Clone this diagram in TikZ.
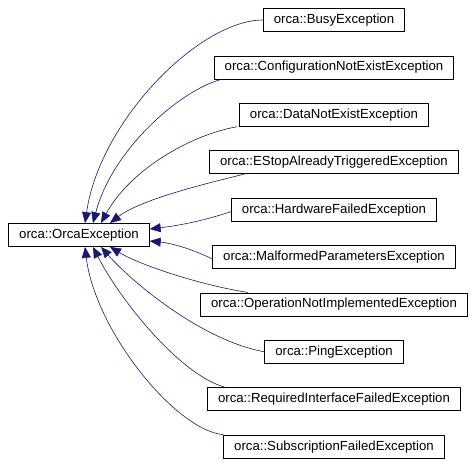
\documentclass[tikz,border=0pt]{standalone}
\usepackage{fontspec}
\setmainfont{Liberation Sans}
\usetikzlibrary{arrows.meta}
\definecolor{EDGE}{RGB}{25,25,112}

\begin{document}
\begin{tikzpicture}[x=1pt,y=-1pt,font=\fontsize{13.2}{15}\selectfont,>={Triangle[length=11pt,width=9pt]}]
    \tikzset{cls/.style={draw=black,line width=0.8pt,inner xsep=10.5pt,inner ysep=0pt,minimum height=23pt},
      edge/.style={->,EDGE,line width=0.6pt}}
    \useasboundingbox (0,0) rectangle (475,467);
    \node[cls] (base) at (79,235) {orca::OrcaException};
    \foreach \n [count=\i] in {Busy,ConfigurationNotExist,DataNotExist,EStopAlreadyTriggered,HardwareFailed,
      MalformedParameters,OperationNotImplemented,Ping,RequiredInterfaceFailed,SubscriptionFailed}
      \node[cls] (c\i) at (334,{20+47.4*(\i-1)}) {orca::\n Exception};
    % derived classes above the base
    \draw[edge] (c1.west) .. controls (200,20) and (100,120) .. ([xshift=6pt]base.north);
    \draw[edge] ([xshift=8pt]c2.south west) .. controls (180,90) and (112,150) .. ([xshift=14pt]base.north);
    \draw[edge] ([xshift=-2pt]c3.south west) .. controls (190,135) and (130,170) .. ([xshift=22pt]base.north);
    \draw[edge] ([xshift=35pt]c4.south west) .. controls (200,185) and (140,200) .. ([xshift=31pt]base.north);
    \draw[edge] ([yshift=-2pt]c5.west) .. controls (200,222) and (175,226) .. ([yshift=6pt]base.east);
    % derived classes below the base
    \draw[edge] ([yshift=-2pt]c6.west) .. controls (190,248) and (170,243) .. ([yshift=-6pt]base.east);
    \draw[edge] ([xshift=48pt]c7.north west) .. controls (200,285) and (140,265) .. ([xshift=31pt]base.south);
    \draw[edge] (c8.west) .. controls (200,340) and (130,280) .. ([xshift=22pt]base.south);
    \draw[edge] ([xshift=18pt]c9.north west) .. controls (180,375) and (120,300) .. ([xshift=14pt]base.south);
    \draw[edge] (c10.north west) .. controls (175,430) and (95,330) .. ([xshift=6pt]base.south);
  \end{tikzpicture}
\end{document}
